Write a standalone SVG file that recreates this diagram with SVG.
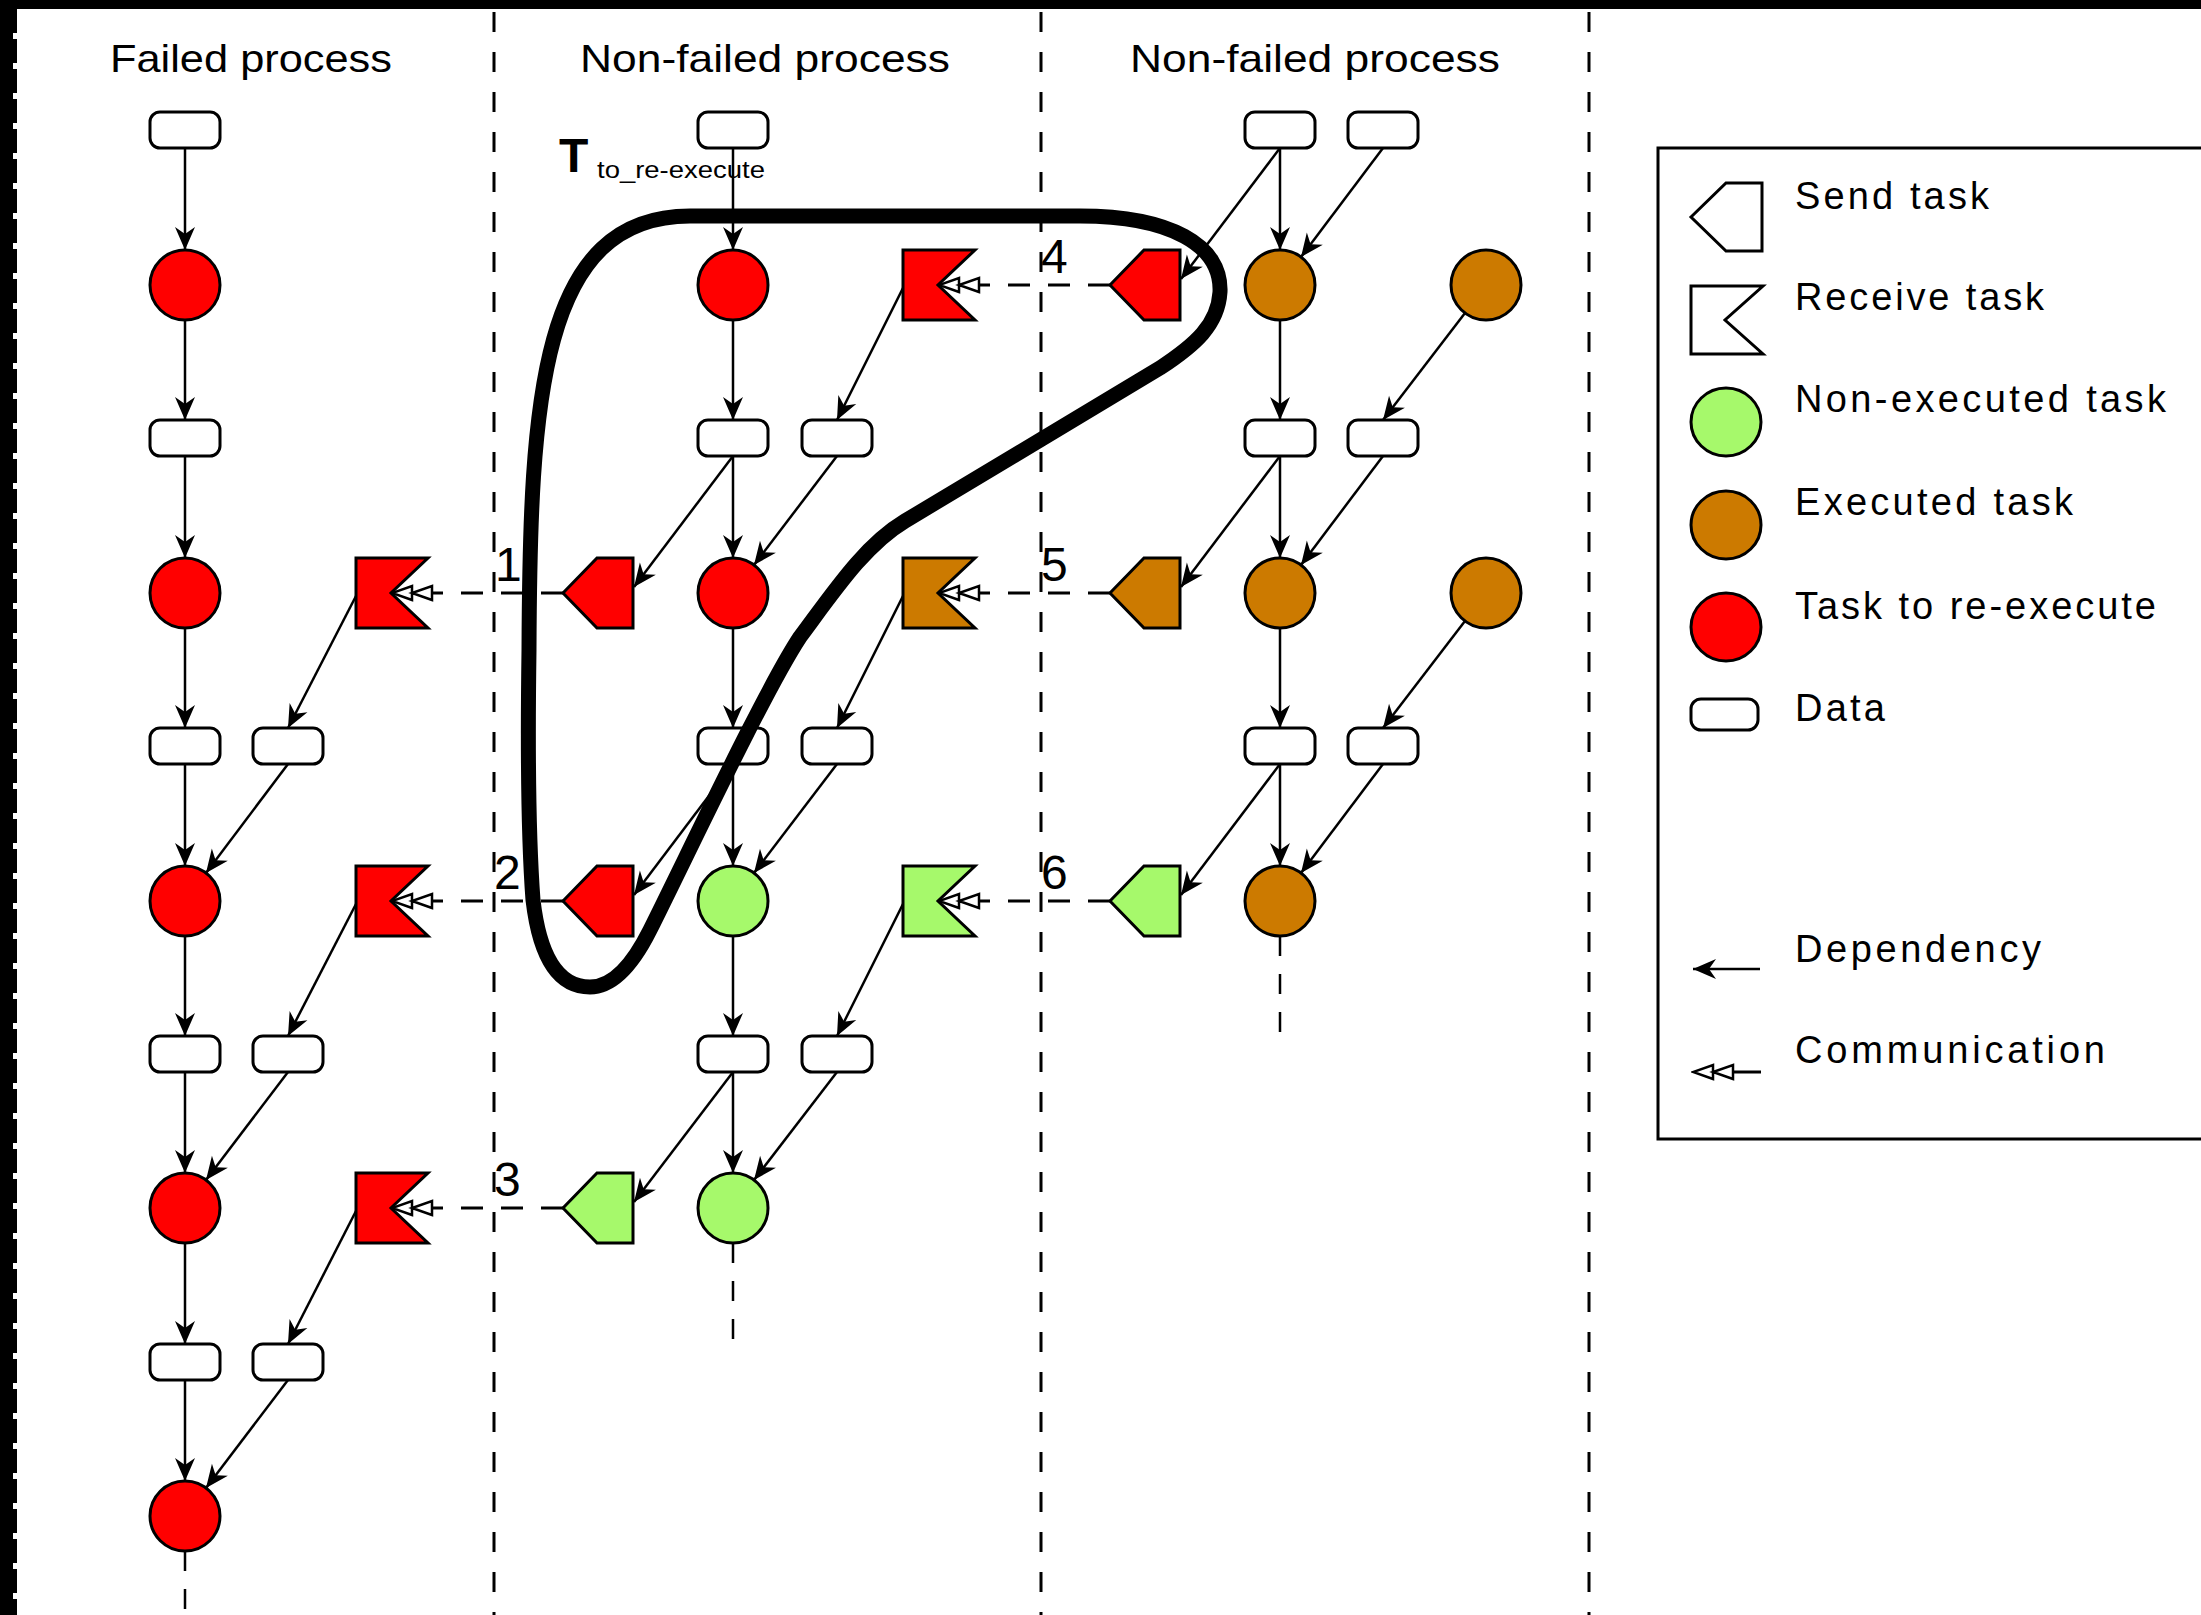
<svg xmlns="http://www.w3.org/2000/svg" width="2201" height="1615" viewBox="0 0 2201 1615">
<style>
  text { font-family: "Liberation Sans", Arial, Helvetica, sans-serif; fill: #000; }
  .title { font-size: 39px; }
  .num { font-size: 48px; }
  .leg { font-size: 38px; }
  .shape { stroke: #000; stroke-width: 3; }
  .red { fill: #ff0000; }
  .brown { fill: #cc7a00; }
  .green { fill: #a6f96b; }
  .white { fill: #ffffff; }
  .dep { fill: none; stroke: #000; stroke-width: 2.5; marker-end: url(#arrow); }
  .comm { fill: none; stroke: #000; stroke-width: 3; stroke-dasharray: 22 18; marker-end: url(#dbl); }
  .divider { fill: none; stroke: #000; stroke-width: 3; stroke-dasharray: 20 20; }
  .cont { fill: none; stroke: #000; stroke-width: 2.5; stroke-dasharray: 20 18; }
  .loop { fill: none; stroke: #000; stroke-width: 15; }
</style>
<defs>
  <path id="send" d="M-35,0 L-1,-35 L35,-35 L35,35 L-1,35 Z"/>
  <path id="recv" d="M-36,-35 L36,-35 L-1,0 L36,35 L-36,35 Z"/>
  <rect id="data" x="-35" y="-18" width="70" height="36" rx="10"/>
  <circle id="task" r="35"/>
  <marker id="arrow" markerUnits="userSpaceOnUse" viewBox="-25 -12 27 24" markerWidth="27" markerHeight="24" refX="0" refY="0" orient="auto">
    <path d="M0,0 L-23,-10 L-16,0 L-23,10 Z" fill="#000"/>
  </marker>
  <marker id="dbl" markerUnits="userSpaceOnUse" viewBox="-2 -9 44 18" markerWidth="44" markerHeight="18" refX="0" refY="0" orient="auto">
    <path d="M0,-7 L20,0 L0,7 Z M20,-7 L40,0 L20,7 Z" fill="#fff" stroke="#000" stroke-width="2.5"/>
  </marker>
</defs>

<rect width="2201" height="1615" fill="#fff"/>

<!-- frame edges -->
<rect x="0" y="0" width="2201" height="9" fill="#000"/>
<rect x="0" y="0" width="13" height="1615" fill="#000"/>
<line x1="15" y1="9" x2="15" y2="1615" stroke="#000" stroke-width="4" stroke-dasharray="24 6"/>

<!-- process lanes -->
<g id="lanes">
  <line class="divider" x1="494" y1="12" x2="494" y2="1615"/>
  <line class="divider" x1="1041" y1="12" x2="1041" y2="1615"/>
  <line class="divider" x1="1589" y1="12" x2="1589" y2="1615"/>
  <text class="title" x="110" y="72" textLength="282" lengthAdjust="spacingAndGlyphs">Failed process</text>
  <text class="title" x="580" y="72" textLength="370" lengthAdjust="spacingAndGlyphs">Non-failed process</text>
  <text class="title" x="1130" y="72" textLength="370" lengthAdjust="spacingAndGlyphs">Non-failed process</text>
</g>

<!-- dependencies and communications -->
<g id="connectors">
  <!-- failed process, main column -->
  <line class="dep" x1="185" y1="148" x2="185" y2="250"/>
  <line class="dep" x1="185" y1="320" x2="185" y2="420"/>
  <line class="dep" x1="185" y1="456" x2="185" y2="558"/>
  <line class="dep" x1="185" y1="628" x2="185" y2="728"/>
  <line class="dep" x1="185" y1="764" x2="185" y2="866"/>
  <line class="dep" x1="185" y1="936" x2="185" y2="1036"/>
  <line class="dep" x1="185" y1="1072" x2="185" y2="1173"/>
  <line class="dep" x1="185" y1="1243" x2="185" y2="1344"/>
  <line class="dep" x1="185" y1="1380" x2="185" y2="1481"/>
  <line class="cont" x1="185" y1="1551" x2="185" y2="1615"/>
  <!-- failed process, received data -->
  <line class="dep" x1="356" y1="596" x2="288" y2="728"/>
  <line class="dep" x1="356" y1="904" x2="288" y2="1036"/>
  <line class="dep" x1="356" y1="1211" x2="288" y2="1344"/>
  <line class="dep" x1="288" y1="764" x2="206" y2="873"/>
  <line class="dep" x1="288" y1="1072" x2="206" y2="1180"/>
  <line class="dep" x1="288" y1="1380" x2="206" y2="1488"/>

  <!-- middle process, main column -->
  <line class="dep" x1="733" y1="148" x2="733" y2="250"/>
  <line class="dep" x1="733" y1="320" x2="733" y2="420"/>
  <line class="dep" x1="733" y1="456" x2="733" y2="558"/>
  <line class="dep" x1="733" y1="628" x2="733" y2="728"/>
  <line class="dep" x1="733" y1="764" x2="733" y2="866"/>
  <line class="dep" x1="733" y1="936" x2="733" y2="1036"/>
  <line class="dep" x1="733" y1="1072" x2="733" y2="1173"/>
  <line class="cont" x1="733" y1="1243" x2="733" y2="1345"/>
  <!-- middle process, sends and received data -->
  <line class="dep" x1="733" y1="456" x2="634" y2="587"/>
  <line class="dep" x1="733" y1="764" x2="634" y2="895"/>
  <line class="dep" x1="733" y1="1072" x2="634" y2="1202"/>
  <line class="dep" x1="903" y1="288" x2="837" y2="420"/>
  <line class="dep" x1="903" y1="596" x2="837" y2="728"/>
  <line class="dep" x1="903" y1="904" x2="837" y2="1036"/>
  <line class="dep" x1="837" y1="456" x2="754" y2="565"/>
  <line class="dep" x1="837" y1="764" x2="754" y2="873"/>
  <line class="dep" x1="837" y1="1072" x2="754" y2="1180"/>

  <!-- right process, main column -->
  <line class="dep" x1="1280" y1="148" x2="1280" y2="250"/>
  <line class="dep" x1="1280" y1="320" x2="1280" y2="420"/>
  <line class="dep" x1="1280" y1="456" x2="1280" y2="558"/>
  <line class="dep" x1="1280" y1="628" x2="1280" y2="728"/>
  <line class="dep" x1="1280" y1="764" x2="1280" y2="866"/>
  <line class="cont" x1="1280" y1="936" x2="1280" y2="1040"/>
  <!-- right process, sends and side data -->
  <line class="dep" x1="1280" y1="148" x2="1181" y2="279"/>
  <line class="dep" x1="1280" y1="456" x2="1181" y2="587"/>
  <line class="dep" x1="1280" y1="764" x2="1181" y2="895"/>
  <line class="dep" x1="1383" y1="148" x2="1301" y2="257"/>
  <line class="dep" x1="1383" y1="456" x2="1301" y2="565"/>
  <line class="dep" x1="1383" y1="764" x2="1301" y2="873"/>
  <line class="dep" x1="1465" y1="313" x2="1383" y2="420"/>
  <line class="dep" x1="1465" y1="621" x2="1383" y2="728"/>

  <!-- messages -->
  <line class="comm" x1="1110" y1="285" x2="979" y2="285"/>
  <line class="comm" x1="563" y1="593" x2="432" y2="593"/>
  <line class="comm" x1="1110" y1="593" x2="979" y2="593"/>
  <line class="comm" x1="563" y1="901" x2="432" y2="901"/>
  <line class="comm" x1="1110" y1="901" x2="979" y2="901"/>
  <line class="comm" x1="563" y1="1208" x2="432" y2="1208"/>
  <text class="num" x="495" y="581">1</text>
  <text class="num" x="494" y="889">2</text>
  <text class="num" x="494" y="1196">3</text>
  <text class="num" x="1041" y="273">4</text>
  <text class="num" x="1041" y="581">5</text>
  <text class="num" x="1041" y="889">6</text>
</g>

<!-- failed process -->
<g id="p0-d0"><use href="#data" class="shape white" x="185" y="130"/></g>
<g id="p0-t1"><use href="#task" class="shape red" x="185" y="285"/></g>
<g id="p0-d2"><use href="#data" class="shape white" x="185" y="438"/></g>
<g id="p0-t3"><use href="#task" class="shape red" x="185" y="593"/></g>
<g id="p0-r3"><use href="#recv" class="shape red" x="392" y="593"/></g>
<g id="p0-d4"><use href="#data" class="shape white" x="185" y="746"/></g>
<g id="p0-d4b"><use href="#data" class="shape white" x="288" y="746"/></g>
<g id="p0-t5"><use href="#task" class="shape red" x="185" y="901"/></g>
<g id="p0-r5"><use href="#recv" class="shape red" x="392" y="901"/></g>
<g id="p0-d6"><use href="#data" class="shape white" x="185" y="1054"/></g>
<g id="p0-d6b"><use href="#data" class="shape white" x="288" y="1054"/></g>
<g id="p0-t7"><use href="#task" class="shape red" x="185" y="1208"/></g>
<g id="p0-r7"><use href="#recv" class="shape red" x="392" y="1208"/></g>
<g id="p0-d8"><use href="#data" class="shape white" x="185" y="1362"/></g>
<g id="p0-d8b"><use href="#data" class="shape white" x="288" y="1362"/></g>
<g id="p0-t9"><use href="#task" class="shape red" x="185" y="1516"/></g>

<!-- middle process -->
<g id="p1-d0"><use href="#data" class="shape white" x="733" y="130"/></g>
<g id="p1-t1"><use href="#task" class="shape red" x="733" y="285"/></g>
<g id="p1-r1"><use href="#recv" class="shape red" x="939" y="285"/></g>
<g id="p1-d2"><use href="#data" class="shape white" x="733" y="438"/></g>
<g id="p1-d2b"><use href="#data" class="shape white" x="837" y="438"/></g>
<g id="p1-s3"><use href="#send" class="shape red" x="598" y="593"/></g>
<g id="p1-t3"><use href="#task" class="shape red" x="733" y="593"/></g>
<g id="p1-r3"><use href="#recv" class="shape brown" x="939" y="593"/></g>
<g id="p1-d4"><use href="#data" class="shape white" x="733" y="746"/></g>
<g id="p1-d4b"><use href="#data" class="shape white" x="837" y="746"/></g>
<g id="p1-s5"><use href="#send" class="shape red" x="598" y="901"/></g>
<g id="p1-t5"><use href="#task" class="shape green" x="733" y="901"/></g>
<g id="p1-r5"><use href="#recv" class="shape green" x="939" y="901"/></g>
<g id="p1-d6"><use href="#data" class="shape white" x="733" y="1054"/></g>
<g id="p1-d6b"><use href="#data" class="shape white" x="837" y="1054"/></g>
<g id="p1-s7"><use href="#send" class="shape green" x="598" y="1208"/></g>
<g id="p1-t7"><use href="#task" class="shape green" x="733" y="1208"/></g>

<!-- right process -->
<g id="p2-d0"><use href="#data" class="shape white" x="1280" y="130"/></g>
<g id="p2-d0b"><use href="#data" class="shape white" x="1383" y="130"/></g>
<g id="p2-s1"><use href="#send" class="shape red" x="1145" y="285"/></g>
<g id="p2-t1"><use href="#task" class="shape brown" x="1280" y="285"/></g>
<g id="p2-t1b"><use href="#task" class="shape brown" x="1486" y="285"/></g>
<g id="p2-d2"><use href="#data" class="shape white" x="1280" y="438"/></g>
<g id="p2-d2b"><use href="#data" class="shape white" x="1383" y="438"/></g>
<g id="p2-s3"><use href="#send" class="shape brown" x="1145" y="593"/></g>
<g id="p2-t3"><use href="#task" class="shape brown" x="1280" y="593"/></g>
<g id="p2-t3b"><use href="#task" class="shape brown" x="1486" y="593"/></g>
<g id="p2-d4"><use href="#data" class="shape white" x="1280" y="746"/></g>
<g id="p2-d4b"><use href="#data" class="shape white" x="1383" y="746"/></g>
<g id="p2-s5"><use href="#send" class="shape green" x="1145" y="901"/></g>
<g id="p2-t5"><use href="#task" class="shape brown" x="1280" y="901"/></g>

<!-- set of tasks to re-execute -->
<g id="reexec-set">
  <path class="loop" d="M690,216 L1080,216 C1170,216 1222,245 1220,292 C1218,325 1195,345 1160,368 L905,521 C865,545 835,590 800,637 C765,690 690,850 650,930 C630,970 610,987 590,987 C560,987 540,960 533,900 C527,820 528,720 529,650 C530,400 540,216 690,216 Z"/>
  <text x="559" y="172" font-size="48" font-weight="bold">T</text>
  <text x="597" y="178" font-size="24" textLength="168" lengthAdjust="spacingAndGlyphs">to_re-execute</text>
</g>

<!-- legend -->
<g id="legend">
  <path d="M2201,148 L1658,148 L1658,1139 L2201,1139" fill="none" stroke="#000" stroke-width="3"/>
  <polygon class="shape white" points="1691,217 1726,183 1762,183 1762,251 1726,251"/>
  <polygon class="shape white" points="1691,286 1763,286 1725,320 1763,354 1691,354"/>
  <ellipse class="shape green" cx="1726" cy="422" rx="35" ry="34"/>
  <ellipse class="shape brown" cx="1726" cy="525" rx="35" ry="34"/>
  <ellipse class="shape red" cx="1726" cy="627" rx="35" ry="34"/>
  <rect class="shape white" x="1691" y="699" width="67" height="31" rx="10"/>
  <line class="dep" x1="1760" y1="969" x2="1693" y2="969"/>
  <line x1="1761" y1="1072" x2="1733" y2="1072" stroke="#000" stroke-width="3" marker-end="url(#dbl)"/>
  <text class="leg" x="1795" y="209" textLength="194">Send task</text>
  <text class="leg" x="1795" y="310" textLength="249">Receive task</text>
  <text class="leg" x="1795" y="412" textLength="371">Non-executed task</text>
  <text class="leg" x="1795" y="515" textLength="278">Executed task</text>
  <text class="leg" x="1795" y="619" textLength="361">Task to re-execute</text>
  <text class="leg" x="1795" y="721" textLength="90">Data</text>
  <text class="leg" x="1795" y="962" textLength="246">Dependency</text>
  <text class="leg" x="1795" y="1063" textLength="310">Communication</text>
</g>
</svg>
